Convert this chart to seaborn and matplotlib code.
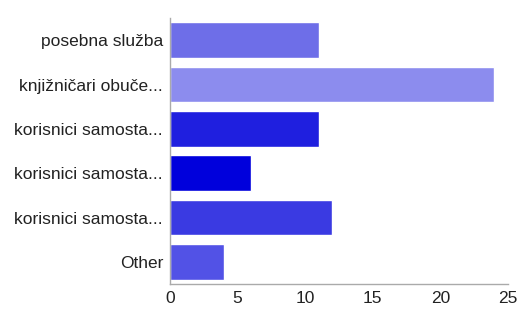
import seaborn as sns
import matplotlib.pyplot as plt
import pandas as pd

categories = ['posebna služba', 'knjižničari obuče...', 'korisnici samosta...',
              'korisnici samosta... ', 'korisnici samosta...  ', 'Other']
values = [11, 24, 11, 6, 12, 4]
colors = ['#6e6ee8', '#8c8cee', '#1f1fdf', '#0000dc', '#3a3ae2', '#5252e6']
xticks = [0, 5, 10, 15, 20, 25]

df = pd.DataFrame({'answer': categories, 'count': values})

sns.set_style('white')
plt.rcParams['font.family'] = ['Liberation Sans', 'DejaVu Sans']

fig = plt.figure(figsize=(5.21, 3.09), dpi=100)
ax = fig.add_axes([170 / 521, 1 - 284 / 309, 338 / 521, 266 / 309])

sns.barplot(data=df, x='count', y='answer', hue='answer', palette=colors,
            legend=False, width=0.8, orient='h', ax=ax, saturation=1)

ax.set_xlim(0, 25)
ax.set_ylim(5.5, -0.5)
ax.set_xticks(xticks)
ax.set_xticklabels([str(t) for t in xticks])
ax.set_yticks(range(len(categories)))
ax.set_yticklabels([c.strip() for c in categories])
ax.set_xlabel('')
ax.set_ylabel('')

for side in ['top', 'right']:
    ax.spines[side].set_visible(False)
for side in ['left', 'bottom']:
    ax.spines[side].set_color('#aaaaaa')
    ax.spines[side].set_linewidth(1)

ax.tick_params(axis='both', which='both', length=4, color='#aaaaaa',
               labelsize=12.5, labelcolor='#222222', width=1)
ax.tick_params(axis='x', direction='out', pad=1)
ax.tick_params(axis='y', direction='out', pad=1)

fig.savefig('out.png', dpi=100)
